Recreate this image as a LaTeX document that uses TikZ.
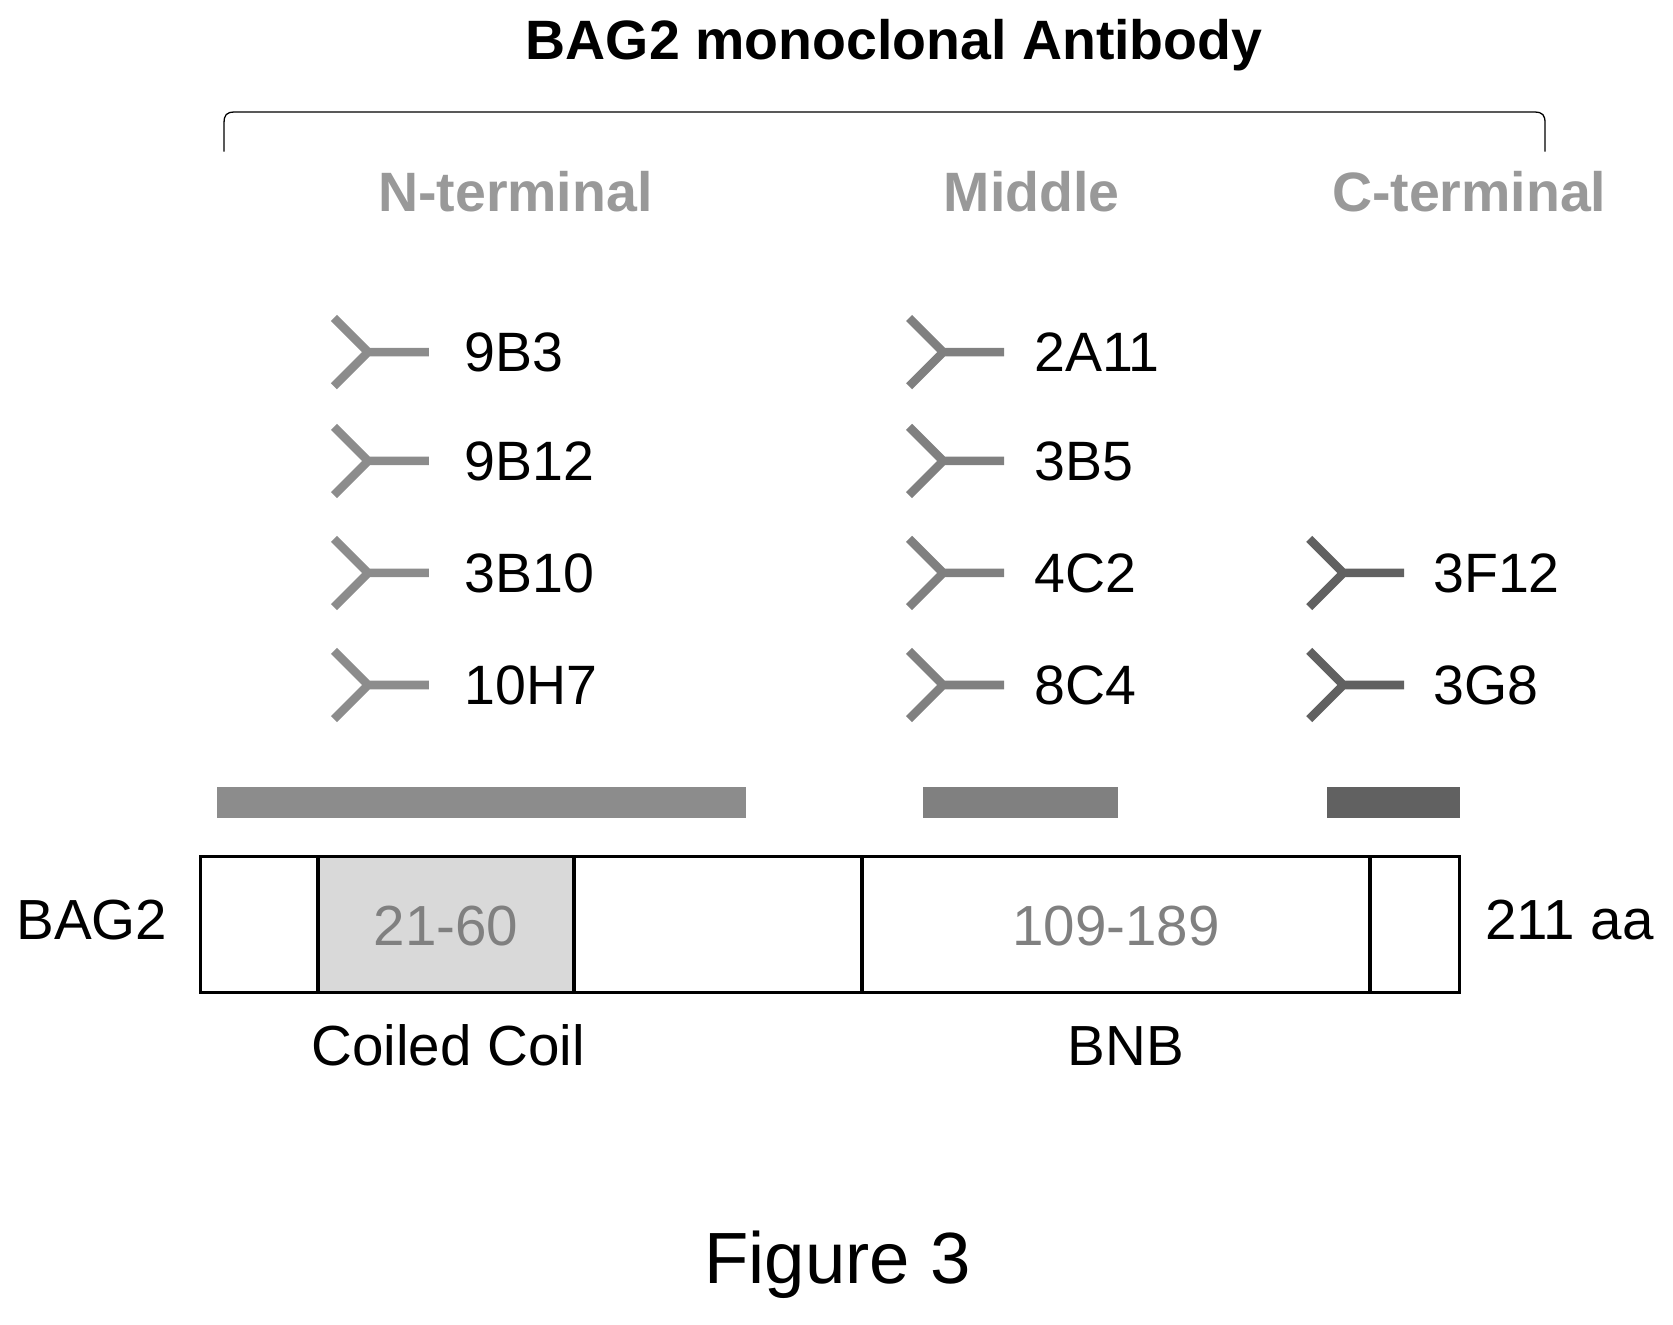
\documentclass[tikz,border=0pt]{standalone}
\usepackage{fontspec}
\setmainfont{Liberation Sans}
\begin{document}
\begin{tikzpicture}[x=0.5pt,y=-0.5pt,
  txt/.style={font=\fontsize{26}{30}\selectfont,anchor=west,inner sep=0},
  hd/.style={font=\bfseries\fontsize{26}{30}\selectfont,text=gray!80,inner sep=0},
  lab/.style={font=\fontsize{26.5}{30}\selectfont,inner sep=0}]
\useasboundingbox (0,0) rectangle (1568,1241);
\definecolor{nc}{gray}{0.55}\definecolor{mc}{gray}{0.5}\definecolor{cc}{gray}{0.38}
\node[font=\bfseries\fontsize{26}{30}\selectfont,inner sep=0] (title) at (838,42) {BAG2 monoclonal Antibody};
\draw[line width=0.6pt] (210,142) -- (210,115) .. controls (210,108) and (212,105) .. (220,105) -- (1438,105) .. controls (1446,105) and (1448,108) .. (1448,115) -- (1448,142);
\node[hd] (nt) at (483,180) {N-terminal};
\node[hd] (mt) at (967,180) {Middle};
\node[hd] (ct) at (1377,180) {C-terminal};
\newcommand{\ab}[6]{%
  \draw[#3,line width=4pt] (#1+32,#2) -- (#1,#2-32) (#1+32,#2) -- (#1,#2+32) (#1+30,#2) -- (#1+89,#2);
  \node[txt] (#4) at (#1+#6,#2) {#5};}
\ab{313}{330}{nc}{a1}{9B3}{122}
\ab{313}{432}{nc}{a2}{9B12}{122}
\ab{313}{537}{nc}{a3}{3B10}{122}
\ab{313}{642}{nc}{a4}{10H7}{122}
\ab{852}{330}{mc}{b1}{2A11}{117}
\ab{852}{432}{mc}{b2}{3B5}{117}
\ab{852}{537}{mc}{b3}{4C2}{117}
\ab{852}{642}{mc}{b4}{8C4}{117}
\ab{1227}{537}{cc}{c1}{3F12}{116}
\ab{1227}{642}{cc}{c2}{3G8}{116}
\fill[nc] (203,738) rectangle (699,767);
\fill[mc] (865,738) rectangle (1048,767);
\fill[cc] (1244,738) rectangle (1368,767);
\fill[gray!30] (298,803) rectangle (538,930);
\draw[line width=1.6pt] (188,803) rectangle (1368,930);
\foreach \x in {298,538,808,1284} \draw[line width=1.6pt] (\x,803) -- (\x,930);
\node[lab,text=gray] (cc1) at (418,868) {21-60};
\node[lab,text=gray] (bnb1) at (1046,868) {109-189};
\node[lab] (bag) at (86,862) {BAG2};
\node[lab] (aa) at (1471,862) {211 aa};
\node[lab] (coil) at (420,980) {Coiled Coil};
\node[lab] (bnb) at (1055,980) {BNB};
\node[font=\fontsize{34}{38}\selectfont,inner sep=0] (fig) at (785,1185) {Figure 3};
\end{tikzpicture}
\end{document}
